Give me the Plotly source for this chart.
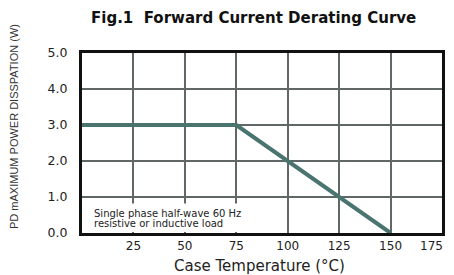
import plotly.graph_objects as go

temps = [0, 75, 150]
power = [3.0, 3.0, 0.0]
x_ticks = [25, 50, 75, 100, 125, 150]
x_last_tick = 175
y_ticks = [0, 1, 2, 3, 4, 5]
y_tick_labels = ["0.0", "1.0", "2.0", "3.0", "4.0", "5.0"]
note_lines = ["Single phase half-wave 60 Hz", "resistive or inductive load"]

# page body has an 8px margin, so the figure is drawn 8px right/down
OFF = 8
W, H = 454 - OFF, 275 - OFF
ML, MR, MT, MB = 82 - OFF, 12, 53 - OFF, 42
PW, PH = W - ML - MR, H - MT - MB

def px_x(px):
    return (px - OFF - ML) / PW

def px_y(py):
    return 1 - (py - OFF - MT) / PH

fig = go.Figure()
fig.add_trace(go.Scatter(x=temps, y=power, mode="lines",
                         line=dict(color="#4a7470", width=4), showlegend=False))

# white box hiding grid behind the note
fig.add_shape(type="rect", xref="x", yref="y", x0=0.5, x1=97, y0=0.03, y1=0.82,
              fillcolor="white", line=dict(width=0), layer="between")

for i, line in enumerate(note_lines):
    fig.add_annotation(x=px_x(92), y=px_y(213 + 10 * i), xref="paper", yref="paper",
                       xanchor="left", yanchor="middle", text=line,
                       showarrow=False, align="left",
                       font=dict(family="DejaVu Sans", size=10, color="#222"))

fig.add_annotation(x=px_x(14), y=px_y(127), xref="paper", yref="paper", showarrow=False,
                   xanchor="center", yanchor="middle",
                   text="PD mAXIMUM POWER DISSPATION (W)", textangle=-90,
                   font=dict(family="Liberation Sans", size=11, color="#333"))

fig.add_annotation(x=px_x(253), y=px_y(18), xref="paper", yref="paper", showarrow=False,
                   xanchor="center", yanchor="middle",
                   text="<b>Fig.1  Forward Current Derating Curve</b>",
                   font=dict(family="DejaVu Sans", size=15, color="#111"))

fig.add_annotation(x=px_x(259), y=px_y(265.5), xref="paper", yref="paper", showarrow=False,
                   xanchor="center", yanchor="middle",
                   text="Case Temperature (°C)",
                   font=dict(family="DejaVu Sans", size=15, color="#222"))

# last tick label kept inside the visible page
fig.add_annotation(x=x_last_tick, xref="x", y=px_y(246), yref="paper", showarrow=False,
                   xanchor="right", yanchor="middle", xshift=3, text=str(x_last_tick),
                   font=dict(family="DejaVu Sans", size=12, color="#222"))

fig.update_layout(
    width=W, height=H,
    margin=dict(l=ML, r=MR, t=MT, b=MB, autoexpand=False),
    paper_bgcolor="white", plot_bgcolor="white",
    xaxis=dict(range=[0, 175], tickvals=x_ticks, showgrid=True, gridcolor="#5f6866",
               gridwidth=1.5, showline=True, linecolor="#111", linewidth=3, mirror=True,
               zeroline=False, ticks="", ticklabelstandoff=0, automargin=False,
               tickfont=dict(family="DejaVu Sans", size=12, color="#222")),
    yaxis=dict(range=[0, 5], tickvals=y_ticks, ticktext=y_tick_labels, showgrid=True,
               gridcolor="#5f6866", gridwidth=1.5, showline=True, linecolor="#111",
               linewidth=3, mirror=True, zeroline=False, ticks="", ticklabelstandoff=9,
               automargin=False,
               tickfont=dict(family="DejaVu Sans", size=12.5, color="#222")),
)

fig.write_html("out.html")
